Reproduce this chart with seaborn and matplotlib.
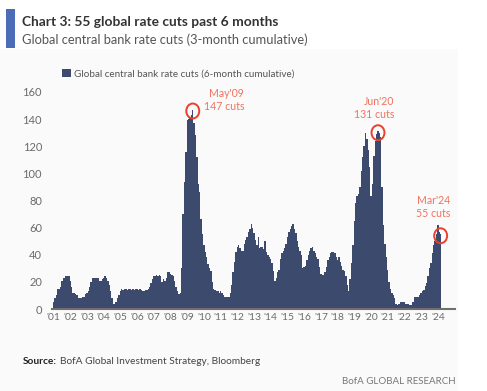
import matplotlib
matplotlib.use("Agg")
import matplotlib.pyplot as plt
from matplotlib.patches import Ellipse, Rectangle, Patch
import seaborn as sns
import pandas as pd

# Global central bank rate cuts, monthly values
cuts_2001 = [5, 8, 10, 15, 15, 16, 21, 23, 23, 24, 24, 24]
cuts_2002 = [21, 16, 12, 12, 11, 10, 8, 8, 8, 9, 9, 11]
cuts_2003 = [12, 13, 16, 20, 23, 23, 23, 23, 23, 21, 21, 22]
cuts_2004 = [23, 24, 23, 21, 18, 13, 8, 4, 4, 5, 8, 10]
cuts_2005 = [13, 15, 14, 15, 15, 14, 15, 15, 14, 15, 14, 15]
cuts_2006 = [15, 14, 15, 14, 13, 13, 14, 14, 15, 16, 19, 22]
cuts_2007 = [24, 24, 25, 24, 25, 24, 20, 22, 21, 23, 27, 27]
cuts_2008 = [26, 25, 24, 21, 16, 13, 11, 12, 30, 70, 94, 116]
cuts_2009 = [139, 140, 141, 143, 147, 137, 128, 112, 92, 86, 66, 55]
cuts_2010 = [47, 42, 38, 33, 30, 28, 20, 15, 14, 13, 13, 12]
cuts_2011 = [13, 12, 10, 9, 9, 9, 9, 12, 18, 27, 35, 42]
cuts_2012 = [46, 47, 45, 43, 43, 48, 51, 53, 57, 59, 63, 60]
cuts_2013 = [56, 51, 47, 53, 45, 46, 46, 44, 50, 42, 40, 38]
cuts_2014 = [37, 34, 28, 21, 23, 27, 29, 37, 41, 43, 45, 48]
cuts_2015 = [53, 57, 59, 61, 63, 59, 56, 50, 46, 43, 40, 30]
cuts_2016 = [31, 32, 36, 40, 43, 45, 46, 43, 41, 38, 37, 31]
cuts_2017 = [26, 25, 25, 27, 31, 36, 38, 41, 42, 42, 41, 38]
cuts_2018 = [36, 38, 35, 32, 29, 28, 24, 18, 13, 22, 34, 47]
cuts_2019 = [65, 78, 83, 85, 90, 102, 112, 120, 130, 125, 117, 105]
cuts_2020 = [83, 92, 113, 124, 129, 131, 130, 127, 90, 62, 48, 38]
cuts_2021 = [29, 20, 15, 12, 10, 8, 4, 3, 4, 5, 5, 5]
cuts_2022 = [5, 4, 4, 4, 3, 3, 5, 9, 9, 9, 9, 10]
cuts_2023 = [12, 13, 14, 17, 19, 24, 30, 34, 41, 47, 50, 55]
cuts_2024 = [62, 57, 55]

years = list(range(2001, 2025))
year_labels = ["'%02d" % (y % 100) for y in years]

# annotated points
peak_labels = ["May'09\n147 cuts", "Jun'20\n131 cuts", "Mar'24\n55 cuts"]
peak_months = ["2009-05", "2020-06", "2024-03"]
peak_values = [147, 131, 55]

all_cuts = (cuts_2001 + cuts_2002 + cuts_2003 + cuts_2004 + cuts_2005 + cuts_2006
            + cuts_2007 + cuts_2008 + cuts_2009 + cuts_2010 + cuts_2011 + cuts_2012
            + cuts_2013 + cuts_2014 + cuts_2015 + cuts_2016 + cuts_2017 + cuts_2018
            + cuts_2019 + cuts_2020 + cuts_2021 + cuts_2022 + cuts_2023 + cuts_2024)
months = pd.period_range("2001-01", periods=len(all_cuts), freq="M").astype(str)
df = pd.DataFrame({"month": months, "cuts": all_cuts})

sns.set_style("white")
plt.rcParams["font.family"] = ["Lato", "DejaVu Sans"]

bar_color = "#3c4a6d"
red = "#e8412c"
salmon = "#f0735f"
grey = "#6b6b6b"

fig = plt.figure(figsize=(4.87, 3.91), dpi=100)
fig.patch.set_facecolor("white")

# light panel + blue accent bar
fig.add_artist(Rectangle((0, 0), 458 / 487, (391 - 49) / 391, transform=fig.transFigure,
                         facecolor="#fafafa", edgecolor="none", zorder=0))
fig.add_artist(Rectangle((6 / 487, (391 - 48) / 391), 9 / 487, 39 / 391, transform=fig.transFigure,
                         facecolor="#4b6cb7", edgecolor="none"))

fig.text(22 / 487, 1 - 22 / 391, "Chart 3: 55 global rate cuts past 6 months",
         fontsize=9.9, fontweight="bold", color="#333333", va="center")
fig.text(22 / 487, 1 - 40 / 391, "Global central bank rate cuts (3-month cumulative)",
         fontsize=9.3, color="#555555", va="center")

ax = fig.add_axes([51.7 / 487, (391 - 309) / 391, (455 - 51.7) / 487, 217 / 391])
ax.set_facecolor("none")

sns.barplot(data=df, x="month", y="cuts", color=bar_color, saturation=1,
            width=1.0, linewidth=0, errorbar=None, ax=ax)

ax.set_xlim(-1.3, 288.3)
ax.set_ylim(0, 160)
ax.set_yticks(range(0, 161, 20))
ax.set_xticks(range(0, 12 * len(years), 12))
ax.set_xticklabels(year_labels)
ax.set_xlabel("")
ax.set_ylabel("")
ax.tick_params(axis="both", length=0, labelsize=8, colors=grey)
ax.tick_params(axis="x", labelsize=7.4, pad=3)
ax.tick_params(axis="y", pad=7)
for s in ["top", "right", "left"]:
    ax.spines[s].set_visible(False)
ax.spines["bottom"].set_color("#707070")
ax.spines["bottom"].set_linewidth(1.5)

# circles and labels on the three peaks
for label, month, value in zip(peak_labels, peak_months, peak_values):
    i = df.index[df["month"] == month][0]
    ax.add_patch(Ellipse((i, value - 1), 9.3, 11, facecolor="none",
                         edgecolor=red, linewidth=1.4, clip_on=False, zorder=5))
ax.annotate(peak_labels[0], (df.index[df["month"] == peak_months[0]][0], peak_values[0]),
            xytext=(37, 7), textcoords="offset points", ha="right", va="center",
            fontsize=7.6, color=salmon, linespacing=1.2, multialignment="right")
ax.annotate(peak_labels[1], (df.index[df["month"] == peak_months[1]][0], peak_values[1]),
            xytext=(12, 17), textcoords="offset points", ha="right", va="center",
            fontsize=7.6, color=salmon, linespacing=1.2, multialignment="right")
ax.annotate(peak_labels[2], (df.index[df["month"] == peak_months[2]][0], peak_values[2]),
            xytext=(7, 20), textcoords="offset points", ha="right", va="center",
            fontsize=7.6, color=salmon, linespacing=1.2, multialignment="right")

ax.legend(handles=[Patch(facecolor=bar_color, edgecolor="none",
                         label="Global central bank rate cuts (6-month cumulative)")],
          loc="center left", bbox_to_anchor=(62.5 / 487, 1 - 74 / 391),
          bbox_transform=fig.transFigure, frameon=False, fontsize=7.1,
          handlelength=0.85, handleheight=0.85, handletextpad=0.3,
          borderpad=0, borderaxespad=0, labelcolor="#555555")

src = fig.text(23 / 487, 1 - 362 / 391, "Source:", fontsize=7.3, fontweight="bold",
               color="#222222", va="center")
fig.canvas.draw()
bb = src.get_window_extent()
fig.text((bb.x1 + 2.5) / 487, 1 - 362 / 391, "BofA Global Investment Strategy, Bloomberg",
         fontsize=7.3, color="#444444", va="center")
fig.text(456 / 487, 1 - 382 / 391, "BofA GLOBAL RESEARCH", fontsize=7,
         color="#777777", ha="right", va="center")

fig.savefig("out.png", dpi=100)
plt.close(fig)
